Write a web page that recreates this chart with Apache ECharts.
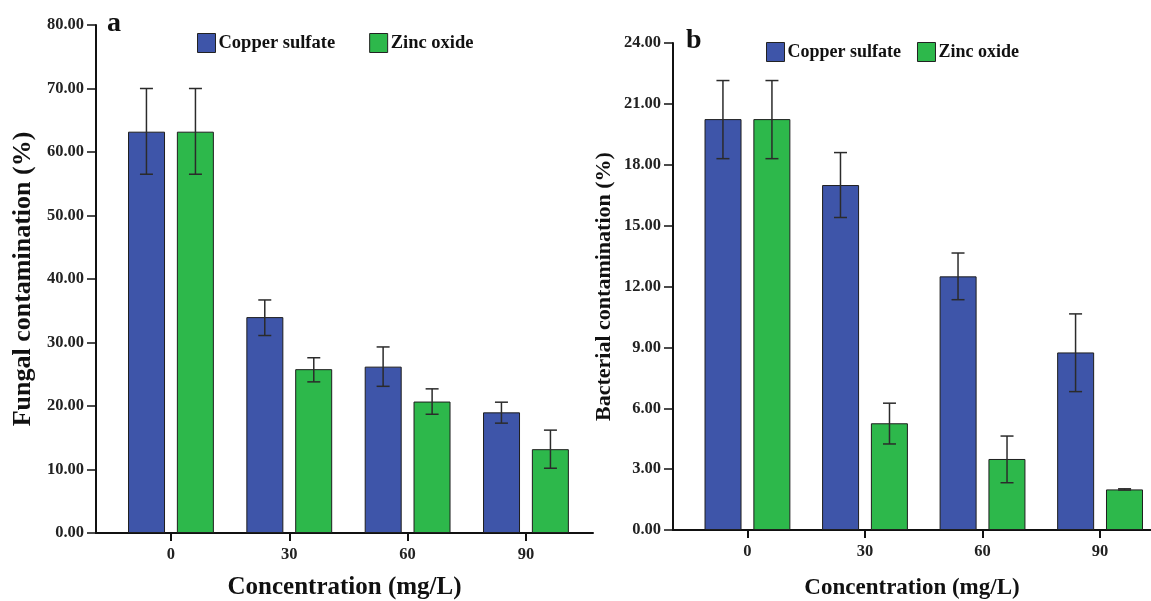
<!DOCTYPE html>
<html>
<head>
<meta charset="utf-8">
<script src="https://cdn.jsdelivr.net/npm/echarts@6/dist/echarts.min.js"></script>
<style>
html,body{margin:0;padding:0;background:#fff;}
#chart{width:1151px;height:601px;}
</style>
</head>
<body>
<div id="chart"></div>
<script>
// ---- data ----
const concentrations = [0, 30, 60, 90];
const seriesNames = ['Copper sulfate', 'Zinc oxide'];

const fungalCopper     = [63.2, 34.0, 26.2, 19.0];
const fungalCopperLow  = [56.5, 31.1, 23.1, 17.3];
const fungalCopperHigh = [70.0, 36.7, 29.3, 20.6];
const fungalZinc       = [63.2, 25.8, 20.7, 13.2];
const fungalZincLow    = [56.5, 23.8, 18.7, 10.2];
const fungalZincHigh   = [70.0, 27.6, 22.7, 16.2];

const bactCopper       = [20.25, 17.0, 12.5, 8.75];
const bactCopperLow    = [18.3, 15.4, 11.35, 6.82];
const bactCopperHigh   = [22.15, 18.6, 13.65, 10.65];
const bactZinc         = [20.25, 5.26, 3.5, 2.0];
const bactZincLow      = [18.3, 4.24, 2.33, 1.97];
const bactZincHigh     = [22.15, 6.25, 4.63, 2.03];

const fungalTicks = [0, 10, 20, 30, 40, 50, 60, 70, 80];
const bactTicks = [0, 3, 6, 9, 12, 15, 18, 21, 24];

// ---- styles ----
const FONT = 'Liberation Serif';
const BLUE = '#3e55a9';
const GREEN = '#2db84b';
const BAR_W = 37;
const HALF_OFFSET = 24.5;

function pairs(xs, ys){ return xs.map((x,i)=>[x, ys[i]]); }
function errData(xs, lo, hi){ return xs.map((x,i)=>[x, lo[i], hi[i]]); }

function errRender(offset){
  return function(params, api){
    const x = api.value(0);
    const pLo = api.coord([x, api.value(1)]);
    const pHi = api.coord([x, api.value(2)]);
    const cx = pLo[0] + offset;
    const hw = 6.5;
    const st = {stroke:'#2b2b2b', lineWidth:1.5};
    return {type:'group', children:[
      {type:'line', shape:{x1:cx, y1:pHi[1], x2:cx, y2:pLo[1]}, style:st},
      {type:'line', shape:{x1:cx-hw, y1:pHi[1], x2:cx+hw, y2:pHi[1]}, style:st},
      {type:'line', shape:{x1:cx-hw, y1:pLo[1], x2:cx+hw, y2:pLo[1]}, style:st}
    ]};
  };
}

function xAxisDef(idx, max, titleSize, gap){
  return {
    type:'value', gridIndex:idx, min:-19, max:max,
    name:'Concentration (mg/L)', nameLocation:'middle', nameGap:gap,
    nameTextStyle:{fontFamily:FONT, fontWeight:'bold', fontSize:titleSize, color:'#111'},
    axisLine:{show:true, onZero:false, lineStyle:{color:'#111', width:2}},
    axisTick:{show:true, customValues:concentrations, length:8, lineStyle:{color:'#111', width:2}},
    axisLabel:{customValues:concentrations, margin:13, fontFamily:FONT, fontWeight:'bold', fontSize:16.5, color:'#222'},
    splitLine:{show:false}
  };
}
function yAxisDef(idx, max, interval, name, gap, ticks, titleSize){
  return {
    type:'value', gridIndex:idx, min:ticks[0], max:max, interval:interval,
    name:name, nameLocation:'middle', nameGap:gap,
    nameTextStyle:{fontFamily:FONT, fontWeight:'bold', fontSize:titleSize, color:'#111'},
    axisLine:{show:true, onZero:false, lineStyle:{color:'#111', width:2}},
    axisTick:{show:true, length:9, lineStyle:{color:'#111', width:1.5}},
    axisLabel:{margin:12, fontFamily:FONT, fontWeight:'bold', fontSize:16.5, color:'#222',
      formatter:v=>v.toFixed(2)},
    splitLine:{show:false}
  };
}
function barSeries(name, idx, data, color){
  return {
    type:'bar', name:name, xAxisIndex:idx, yAxisIndex:idx,
    data:data, barWidth:BAR_W, barGap:'32%',
    itemStyle:{color:color, borderColor:'#1e1e1e', borderWidth:1},
    emphasis:{disabled:true}, z:2
  };
}
function errSeries(name, idx, data, offset){
  return {
    type:'custom', name:name, xAxisIndex:idx, yAxisIndex:idx,
    data:data, renderItem:errRender(offset),
    encode:{x:0, y:[1,2]}, z:5, silent:true
  };
}
function legendDef(left, top, gap, size){
  return {
    left:left, top:top,
    data:seriesNames, icon:'rect', itemWidth:18, itemHeight:19, itemGap:gap,
    orient:'horizontal', padding:0,
    itemStyle:{borderColor:'#222', borderWidth:1},
    textStyle:{fontFamily:FONT, fontWeight:'bold', fontSize:size, color:'#111', padding:[0,0,0,-2]}
  };
}

const chart = echarts.init(document.getElementById('chart'));
chart.setOption({
  backgroundColor:'#fff',
  animation:false,
  title:[
    {text:'a', left:107, top:10, padding:0, textStyle:{fontFamily:FONT, fontWeight:'bold', fontSize:28, color:'#111'}},
    {text:'b', left:686, top:27, padding:0, textStyle:{fontFamily:FONT, fontWeight:'bold', fontSize:28, color:'#111'}}
  ],
  legend:[
    legendDef(197, 33, 34, 18.5),
    legendDef(766, 42, 16, 18)
  ],
  grid:[
    {left:96, top:25, width:497, height:508, containLabel:false, outerBoundsMode:'none'},
    {left:673, top:43, width:478, height:487, containLabel:false, outerBoundsMode:'none'}
  ],
  xAxis:[xAxisDef(0, 107, 25, 42), xAxisDef(1, 103, 23, 47)],
  yAxis:[
    yAxisDef(0, 80, 10, 'Fungal contamination (%)', 60, fungalTicks, 26),
    yAxisDef(1, 24, 3, 'Bacterial contamination (%)', 58, bactTicks, 22)
  ],
  series:[
    barSeries(seriesNames[0], 0, pairs(concentrations, fungalCopper), BLUE),
    barSeries(seriesNames[1], 0, pairs(concentrations, fungalZinc), GREEN),
    errSeries(seriesNames[0], 0, errData(concentrations, fungalCopperLow, fungalCopperHigh), -HALF_OFFSET),
    errSeries(seriesNames[1], 0, errData(concentrations, fungalZincLow, fungalZincHigh), HALF_OFFSET),
    barSeries(seriesNames[0], 1, pairs(concentrations, bactCopper), BLUE),
    barSeries(seriesNames[1], 1, pairs(concentrations, bactZinc), GREEN),
    errSeries(seriesNames[0], 1, errData(concentrations, bactCopperLow, bactCopperHigh), -HALF_OFFSET),
    errSeries(seriesNames[1], 1, errData(concentrations, bactZincLow, bactZincHigh), HALF_OFFSET)
  ]
});
</script>
</body>
</html>
